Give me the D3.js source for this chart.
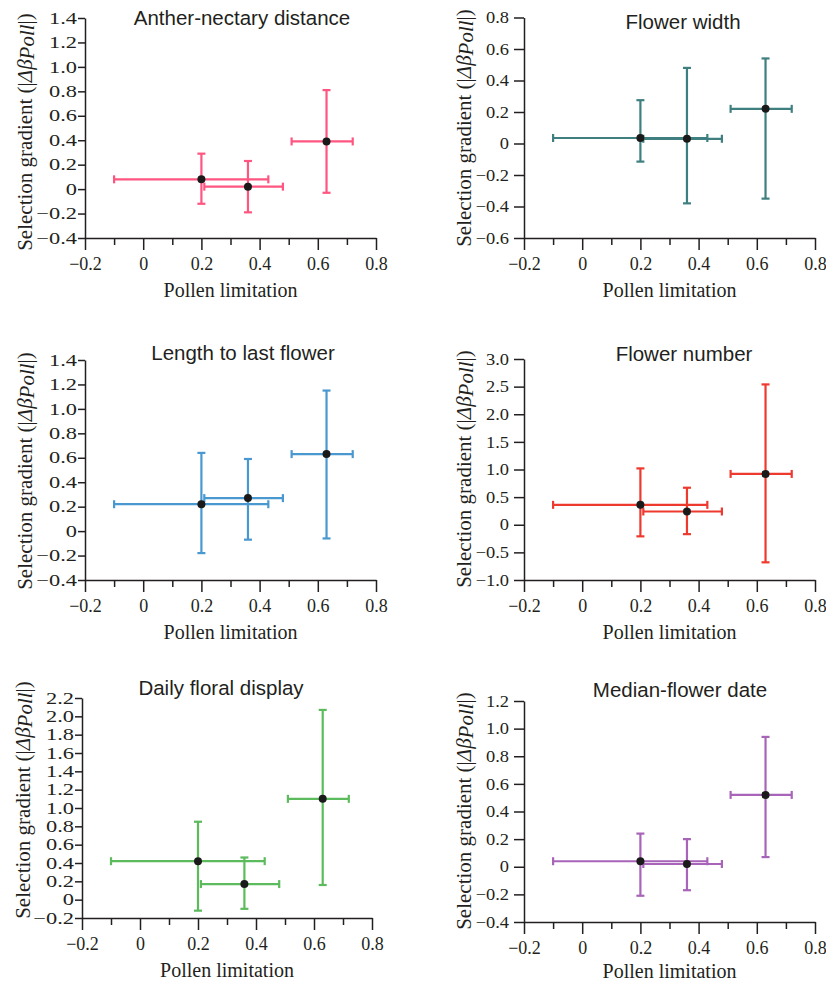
<!DOCTYPE html>
<html>
<head>
<meta charset="utf-8">
<script src="https://cdn.jsdelivr.net/npm/d3@7"></script>
<style>
body { margin: 0; background: #fff; }
text { fill: #231f20; }
</style>
</head>
<body>
<svg id="chart"></svg>
<script>
// pollen limitation (x) is the same for all six traits
var plX = [0.2, 0.36, 0.63];
var plLo = [-0.1, 0.21, 0.51];
var plHi = [0.43, 0.48, 0.72];
var xTicks = [-0.2, 0, 0.2, 0.4, 0.6, 0.8];
var xMinor = [-0.1, 0.1, 0.3, 0.5, 0.7];

var titles = ["Anther-nectary distance", "Flower width", "Length to last flower",
  "Flower number", "Daily floral display", "Median-flower date"];

// selection gradients, lower and upper bounds per trait
var antherY = [0.08, 0.02, 0.39];
var antherLo = [-0.12, -0.19, -0.03];
var antherHi = [0.29, 0.23, 0.81];

var widthY = [0.035, 0.03, 0.22];
var widthLo = [-0.115, -0.38, -0.35];
var widthHi = [0.275, 0.48, 0.54];

var lengthY = [0.22, 0.27, 0.63];
var lengthLo = [-0.18, -0.07, -0.06];
var lengthHi = [0.64, 0.59, 1.15];

var numberY = [0.36, 0.24, 0.92];
var numberLo = [-0.21, -0.17, -0.68];
var numberHi = [1.02, 0.67, 2.54];

var displayY = [0.42, 0.17, 1.10];
var displayLo = [-0.12, -0.10, 0.16];
var displayHi = [0.85, 0.46, 2.07];

var dateY = [0.04, 0.02, 0.52];
var dateLo = [-0.21, -0.17, 0.07];
var dateHi = [0.24, 0.20, 0.94];

var yTicksAnther = [-0.4, -0.2, 0, 0.2, 0.4, 0.6, 0.8, 1.0, 1.2, 1.4];
var yTicksWidth = [-0.6, -0.4, -0.2, 0, 0.2, 0.4, 0.6, 0.8];
var yTicksLength = [-0.4, -0.2, 0, 0.2, 0.4, 0.6, 0.8, 1.0, 1.2, 1.4];
var yTicksNumber = [-1.0, -0.5, 0, 0.5, 1.0, 1.5, 2.0, 2.5, 3.0];
var yTicksDisplay = [-0.2, 0, 0.2, 0.4, 0.6, 0.8, 1.0, 1.2, 1.4, 1.6, 1.8, 2.0, 2.2];
var yTicksDate = [-0.4, -0.2, 0, 0.2, 0.4, 0.6, 0.8, 1.0, 1.2];

var colors = ["#ff5580", "#3f7f7f", "#4a98d0", "#ee3a2e", "#5cbb5c", "#a864b8"];

// left column panels have wider (stretched) y tick labels and shorter ticks
var leftCol = {stretch: 1.4, tick: 7, pad: 1};
var rightCol = {stretch: 1.15, tick: 10, pad: 5};

var panels = [
  {y: antherY, lo: antherLo, hi: antherHi, ticks: yTicksAnther, ya: leftCol,
   box: {l: 85, r: 376, t: 18, b: 238}, tx: 242, ty: 25, lx: 32, ly: 132},
  {y: widthY, lo: widthLo, hi: widthHi, ticks: yTicksWidth, ya: rightCol,
   box: {l: 524, r: 815, t: 17.5, b: 238}, tx: 683, ty: 29, lx: 471, ly: 128},
  {y: lengthY, lo: lengthLo, hi: lengthHi, ticks: yTicksLength, ya: leftCol,
   box: {l: 85, r: 376, t: 360, b: 580}, tx: 243, ty: 360, lx: 32, ly: 471},
  {y: numberY, lo: numberLo, hi: numberHi, ticks: yTicksNumber, ya: rightCol,
   box: {l: 524, r: 815, t: 359, b: 580}, tx: 684, ty: 361, lx: 471, ly: 469},
  {y: displayY, lo: displayLo, hi: displayHi, ticks: yTicksDisplay, ya: leftCol,
   box: {l: 82, r: 372, t: 698, b: 918}, tx: 221, ty: 695, lx: 30, ly: 800},
  {y: dateY, lo: dateLo, hi: dateHi, ticks: yTicksDate, ya: rightCol,
   box: {l: 524, r: 815, t: 701, b: 922}, tx: 680, ty: 697, lx: 471, ly: 811}
];

var svg = d3.select("#chart").attr("width", 826).attr("height", 983);

var fmt = function(d) { return d === 0 ? "0" : d3.format(".1f")(d); };
var cap = 4;
var serif = "'Liberation Serif', 'Times New Roman', serif";

panels.forEach(function(p, k) {
  var b = p.box;
  var x = d3.scaleLinear().domain([-0.2, 0.8]).range([b.l, b.r]);
  var y = d3.scaleLinear().domain(d3.extent(p.ticks)).range([b.b, b.t]);
  var g = svg.append("g");
  var col = colors[k];

  // x axis: major + minor ticks
  var xa = g.append("g").attr("transform", "translate(0," + b.b + ")")
    .call(d3.axisBottom(x).tickValues(xTicks).tickFormat(fmt).tickSizeInner(12).tickSizeOuter(0).tickPadding(7));
  g.append("g").attr("transform", "translate(0," + b.b + ")")
    .call(d3.axisBottom(x).tickValues(xMinor).tickFormat("").tickSizeInner(7).tickSizeOuter(0))
    .select(".domain").remove();
  var ya = g.append("g").attr("transform", "translate(" + b.l + ",0)")
    .call(d3.axisLeft(y).tickValues(p.ticks).tickFormat(fmt).tickSizeInner(p.ya.tick).tickSizeOuter(0).tickPadding(p.ya.pad));

  g.selectAll("g").attr("font-family", null).attr("font-size", null);
  xa.selectAll(".tick text")
    .style("font-family", serif).style("font-size", "18px");
  ya.selectAll(".tick text")
    .style("font-family", serif).style("font-size", "16px")
    .each(function() {
      var w = this.getComputedTextLength();
      d3.select(this).attr("textLength", w * p.ya.stretch).attr("lengthAdjust", "spacingAndGlyphs");
    });
  g.selectAll(".domain, .tick line").attr("stroke", "#231f20").attr("stroke-width", 1.5);

  // title
  g.append("text").attr("x", p.tx).attr("y", p.ty).attr("text-anchor", "middle")
    .style("font-family", "'Liberation Sans', Arial, sans-serif").style("font-size", "20.5px")
    .text(titles[k]);

  // x label
  g.append("text").attr("x", (b.l + b.r) / 2).attr("y", Math.min(b.b + 59, 978)).attr("text-anchor", "middle")
    .style("font-family", serif).style("font-size", "20px")
    .text("Pollen limitation");

  // y label
  var yl = g.append("text").attr("transform", "translate(" + p.lx + "," + p.ly + ") rotate(-90)")
    .attr("text-anchor", "middle")
    .style("font-family", serif).style("font-size", "21px");
  yl.append("tspan").text("Selection gradient (|");
  yl.append("tspan").style("font-style", "italic").text("Δβ");
  yl.append("tspan").style("font-style", "italic").attr("dy", 2).text("Poll");
  yl.append("tspan").attr("dy", -2).text("|)");

  // error bars
  var idx = d3.range(plX.length);
  var eb = g.append("g").attr("stroke", col).attr("stroke-width", 2.2).attr("fill", "none");
  eb.selectAll(".h").data(idx).enter().append("line")
    .attr("x1", function(i) { return x(plLo[i]); }).attr("x2", function(i) { return x(plHi[i]); })
    .attr("y1", function(i) { return y(p.y[i]); }).attr("y2", function(i) { return y(p.y[i]); });
  eb.selectAll(".v").data(idx).enter().append("line")
    .attr("x1", function(i) { return x(plX[i]); }).attr("x2", function(i) { return x(plX[i]); })
    .attr("y1", function(i) { return y(p.lo[i]); }).attr("y2", function(i) { return y(p.hi[i]); });
  // caps
  [plLo, plHi].forEach(function(arr) {
    eb.selectAll(null).data(idx).enter().append("line")
      .attr("x1", function(i) { return x(arr[i]); }).attr("x2", function(i) { return x(arr[i]); })
      .attr("y1", function(i) { return y(p.y[i]) - cap; }).attr("y2", function(i) { return y(p.y[i]) + cap; });
  });
  [p.lo, p.hi].forEach(function(arr) {
    eb.selectAll(null).data(idx).enter().append("line")
      .attr("x1", function(i) { return x(plX[i]) - cap; }).attr("x2", function(i) { return x(plX[i]) + cap; })
      .attr("y1", function(i) { return y(arr[i]); }).attr("y2", function(i) { return y(arr[i]); });
  });

  g.selectAll("circle").data(idx).enter().append("circle")
    .attr("cx", function(i) { return x(plX[i]); }).attr("cy", function(i) { return y(p.y[i]); })
    .attr("r", 4).attr("fill", "#1a1a1a");
});
</script>
</body>
</html>
